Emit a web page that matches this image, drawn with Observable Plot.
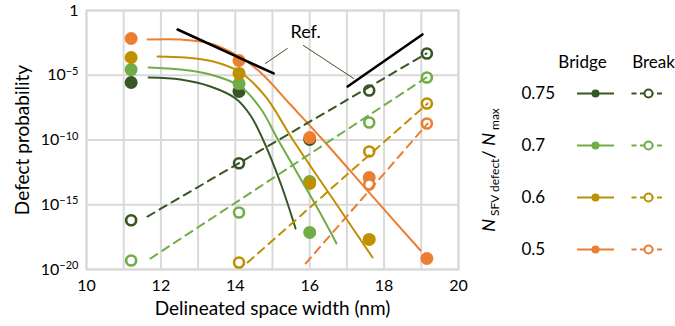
<!DOCTYPE html>
<html>
<head>
<meta charset="utf-8">
<script src="https://cdn.jsdelivr.net/npm/d3@7"></script>
<script src="https://cdn.jsdelivr.net/npm/@observablehq/plot@0.6"></script>
<style>
  body { margin: 0; background: #fff; }
  #chart { position: relative; width: 675px; height: 326px; font-family: Lato, "Noto Sans", sans-serif; }
  #chart svg { position: absolute; top: 0; overflow: visible; }
</style>
</head>
<body>
<div id="chart"></div>
<script>
// N_SFV defect / N_max ratios and their colours
const ratios = ["0.75", "0.7", "0.6", "0.5"];
const ratioColors = ["#375623", "#70ad47", "#bf9000", "#ed7d31"];

const xTicks = [10, 12, 14, 16, 18, 20];
const yTicks = [1, 1e-5, 1e-10, 1e-15, 1e-20];

// Bridge defects (filled markers): space width (nm) and log10 probability
const bridgeX_075 = [11.2, 14.1, 16.0];
const bridgeLog_075 = [-5.56, -6.25, -9.96];
const bridgeX_07 = [11.2, 14.1, 16.0, 16.0];
const bridgeLog_07 = [-4.56, -5.64, -13.2, -17.14];
const bridgeX_06 = [11.2, 14.1, 16.0, 17.6];
const bridgeLog_06 = [-3.63, -4.86, -13.36, -17.68];
const bridgeX_05 = [11.2, 14.1, 16.0, 17.6, 19.15];
const bridgeLog_05 = [-2.16, -3.86, -9.81, -12.9, -19.15];

// Break defects (open markers)
const breakX_075 = [11.2, 14.1, 17.6, 19.15];
const breakLog_075 = [-16.2, -11.8, -6.18, -3.32];
const breakX_07 = [11.2, 14.1, 17.6, 19.15];
const breakLog_07 = [-19.3, -15.6, -8.65, -5.17];
const breakX_06 = [14.1, 17.6, 19.15];
const breakLog_06 = [-19.46, -10.89, -7.18];
const breakX_05 = [17.6, 19.15];
const breakLog_05 = [-13.44, -8.73];

// Bridge model curves
const fitX_075 = [11.67, 12.53, 13.33, 14.01, 14.41, 14.73, 15.22, 15.62];
const fitLog_075 = [-5.17, -5.33, -5.87, -6.80, -8.11, -9.88, -13.36, -16.83];
const fitX_07 = [11.67, 12.53, 13.33, 14.14, 14.68, 15.16, 15.75, 16.29, 16.72];
const fitLog_07 = [-4.40, -4.56, -4.94, -5.87, -7.57, -10.04, -12.97, -15.68, -17.99];
const fitX_06 = [11.91, 12.66, 13.41, 14.14, 14.81, 15.56, 16.56, 17.69];
const fitLog_06 = [-3.55, -3.63, -3.94, -4.79, -6.64, -10.04, -14.29, -19.07];
const fitX_05 = [11.64, 12.53, 13.33, 14.14, 14.68, 15.48, 16.37, 17.69, 18.98];
const fitLog_05 = [-2.24, -2.24, -2.55, -3.63, -4.79, -7.26, -10.04, -14.36, -18.53];

// Break model lines (straight in log space)
const trendX_075 = [11.64, 19.14];
const trendLog_075 = [-15.91, -3.32];
const trendX_07 = [11.72, 19.14];
const trendLog_07 = [-19.15, -5.17];
const trendX_06 = [14.33, 19.17];
const trendLog_06 = [-19.46, -7.18];
const trendX_05 = [15.89, 19.17];
const trendLog_05 = [-19.54, -8.73];

// Reference slopes and their annotation
const refX_left = [12.45, 15.03];
const refLog_left = [-1.47, -4.86];
const refX_right = [17.02, 19.03];
const refLog_right = [-5.87, -1.85];
const leaderX_left = [14.81, 15.40];
const leaderLog_left = [-4.09, -2.93];
const leaderX_right = [15.83, 17.18];
const leaderLog_right = [-2.70, -5.25];
const refLabel = "Ref.";
const refLabelX = 15.89;
const refLabelLog = -1.70;

const colorOf = Object.fromEntries(ratios.map((r, i) => [r, ratioColors[i]]));

function rows(xs, logs, key) {
  return xs.map((x, i) => ({x, p: 10 ** logs[i], key}));
}

const bridgePts = [
  ...rows(bridgeX_075, bridgeLog_075, "0.75"),
  ...rows(bridgeX_07, bridgeLog_07, "0.7"),
  ...rows(bridgeX_06, bridgeLog_06, "0.6"),
  ...rows(bridgeX_05, bridgeLog_05, "0.5")
];
const breakPts = [
  ...rows(breakX_075, breakLog_075, "0.75"),
  ...rows(breakX_07, breakLog_07, "0.7"),
  ...rows(breakX_06, breakLog_06, "0.6"),
  ...rows(breakX_05, breakLog_05, "0.5")
];
const fits = [
  ...rows(fitX_075, fitLog_075, "0.75"),
  ...rows(fitX_07, fitLog_07, "0.7"),
  ...rows(fitX_06, fitLog_06, "0.6"),
  ...rows(fitX_05, fitLog_05, "0.5")
];
const trends = [
  ...rows(trendX_075, trendLog_075, "0.75"),
  ...rows(trendX_07, trendLog_07, "0.7"),
  ...rows(trendX_06, trendLog_06, "0.6"),
  ...rows(trendX_05, trendLog_05, "0.5")
];
const refs = [...rows(refX_left, refLog_left, "a"), ...rows(refX_right, refLog_right, "b")];
const leaders = [...rows(leaderX_left, leaderLog_left, "a"), ...rows(leaderX_right, leaderLog_right, "b")];

const grey = "#d9d9d9";
const font = "Lato, 'Noto Sans', sans-serif";

function tickLabel(d) {
  if (d === 1) return "1";
  return "10^\u2212" + Math.round(-Math.log10(d));
}

const main = Plot.plot({
  width: 675,
  height: 326,
  marginLeft: 86,
  marginRight: 217,
  marginTop: 10,
  marginBottom: 57,
  style: {fontFamily: font, fontSize: "16px", color: "#000", background: "transparent"},
  x: {domain: [10, 20]},
  y: {type: "log", domain: [1e-20, 1]},
  marks: [
    Plot.gridX(d3.range(10, 21), {stroke: grey, strokeOpacity: 1, strokeWidth: 2}),
    Plot.gridY(yTicks, {stroke: grey, strokeOpacity: 1, strokeWidth: 2}),
    Plot.frame({stroke: grey, strokeWidth: 2}),
    Plot.axisX(xTicks, {tickSize: 0, tickPadding: 10, label: null}),
    Plot.axisY(yTicks, {tickSize: 0, tickPadding: 8, tickFormat: tickLabel, label: null}),
    Plot.text(["Defect probability"], {frameAnchor: "left", textAnchor: "middle", rotate: -90, dx: -64, fontSize: 19}),
    Plot.text(["Delineated space width (nm)"], {frameAnchor: "bottom", textAnchor: "middle", dy: 45, fontSize: 19}),
    // markers
    Plot.dot(bridgePts, {x: "x", y: "p", r: 6.5, fill: d => colorOf[d.key], stroke: "none"}),
    Plot.dot(breakPts, {x: "x", y: "p", r: 5, fill: "white", stroke: d => colorOf[d.key], strokeWidth: 2.6}),
    // model lines
    Plot.line(fits, {x: "x", y: "p", z: "key", stroke: d => colorOf[d.key], strokeWidth: 2, curve: "catmull-rom"}),
    Plot.line(trends, {x: "x", y: "p", z: "key", stroke: d => colorOf[d.key], strokeWidth: 2, strokeDasharray: "8,6"}),
    // reference slopes
    Plot.line(refs, {x: "x", y: "p", z: "key", stroke: "#000", strokeWidth: 2.6}),
    Plot.line(leaders, {x: "x", y: "p", z: "key", stroke: "#375623", strokeWidth: 1}),
    Plot.text([refLabel], {x: refLabelX, y: 10 ** refLabelLog, fontSize: 18})
  ]
});

// superscript exponents on the log axis labels
d3.select(main).selectAll('[aria-label="y-axis tick label"] text').each(function () {
  const s = this.textContent;
  const i = s.indexOf("^");
  if (i < 0) return;
  const t = d3.select(this).text(null);
  t.append("tspan").text(s.slice(0, i));
  t.append("tspan").attr("dy", "-0.5em").attr("font-size", "11px").text(s.slice(i + 1));
});

// legend: one row per ratio, columns for bridge and break
const seg = half => ({draw(ctx) { ctx.moveTo(-half, 0); ctx.lineTo(half, 0); }});
const legend = Plot.plot({
  width: 195,
  height: 326,
  margin: 0,
  style: {fontFamily: font, fontSize: "17px", color: "#000", background: "transparent"},
  x: {type: "point", domain: ["Bridge", "Break"], range: [114.5, 168], padding: 0, axis: null},
  y: {type: "point", domain: ratios, range: [92, 249], padding: 0, axis: null},
  marks: [
    Plot.text(["Bridge"], {x: d => d, frameAnchor: "top", dy: 55, dx: -13, fontSize: 17}),
    Plot.text(["Break"], {x: d => d, frameAnchor: "top", dy: 55, dx: 5, fontSize: 17}),
    Plot.text(ratios, {y: d => d, frameAnchor: "left", dx: 41, textAnchor: "start", fontSize: 17}),
    Plot.dot(ratios, {x: () => "Bridge", y: d => d, symbol: seg(18.5), fill: "none", stroke: d => colorOf[d], strokeWidth: 2}),
    Plot.dot(ratios, {x: () => "Break", y: d => d, symbol: seg(17), fill: "none", stroke: d => colorOf[d], strokeWidth: 2, strokeDasharray: "5,3.5"}),
    Plot.dot(ratios, {x: () => "Bridge", y: d => d, r: 4, fill: d => colorOf[d], stroke: "none"}),
    Plot.dot(ratios, {x: () => "Break", y: d => d, r: 4, fill: "white", stroke: d => colorOf[d], strokeWidth: 2})
  ]
});

const title = d3.select(legend).append("text")
  .attr("transform", "translate(15,170) rotate(-90)")
  .attr("text-anchor", "middle")
  .attr("font-size", 18)
  .attr("fill", "#000");
title.append("tspan").attr("font-style", "italic").text("N");
title.append("tspan").attr("font-size", 12).attr("dy", 4).text(" SFV defect");
title.append("tspan").attr("dy", -4).text("/ ");
title.append("tspan").attr("font-style", "italic").text("N");
title.append("tspan").attr("font-size", 12).attr("dy", 4).text(" max");

const chart = document.getElementById("chart");
main.style.left = "0px";
legend.style.left = "480px";
chart.append(main, legend);
</script>
</body>
</html>
